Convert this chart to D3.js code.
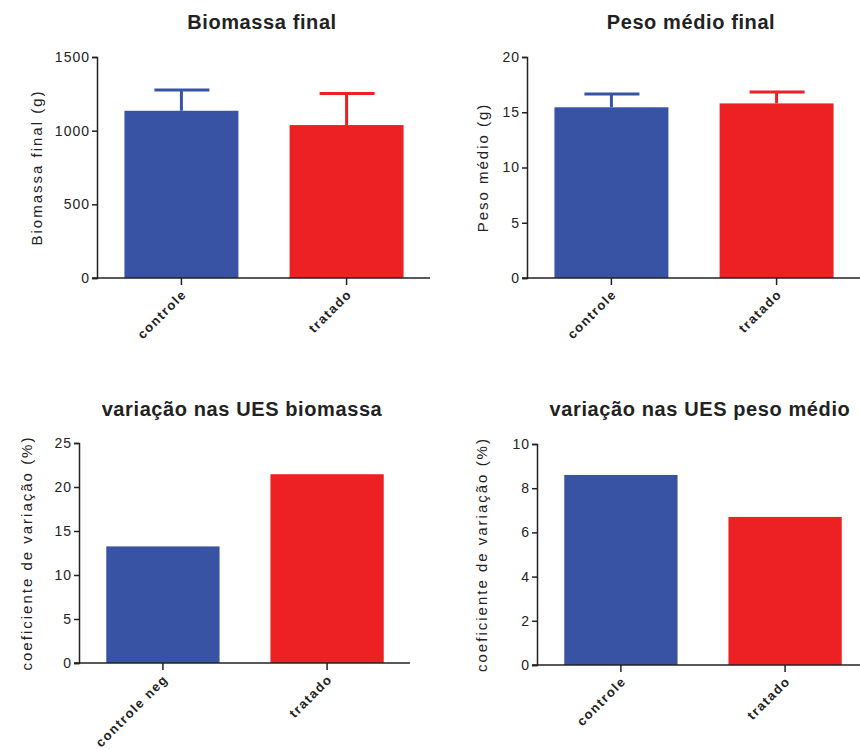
<!DOCTYPE html>
<html lang="en">
<head>
    <meta charset="UTF-8">
    <title>Biomassa e peso médio</title>
    <script src="https://d3js.org/d3.v7.min.js"></script>
    <style>
        body { margin: 0; background: #fff; font-family: "Liberation Sans", Arial, sans-serif; }
        svg text { fill: #222; }
    </style>
</head>
<body>
<div id="chart"></div>
<script>
    // data
    const biomassaCats = ["controle", "tratado"];
    const biomassaMean = [1135, 1038];
    const biomassaErr = [141, 215];

    const pesoCats = ["controle", "tratado"];
    const pesoMean = [15.45, 15.8];
    const pesoErr = [1.2, 1.03];

    const cvBioCats = ["controle neg", "tratado"];
    const cvBio = [13.25, 21.45];

    const cvPesoCats = ["controle", "tratado"];
    const cvPeso = [8.6, 6.7];

    const colors = ["#3953a4", "#ed2024"];

    const svg = d3.select("#chart").append("svg")
        .attr("width", 860)
        .attr("height", 749);

    function panel(opts) {
        const g = svg.append("g");
        const x = d3.scaleBand().domain(opts.cats)
            .range([opts.x0, opts.x1]).paddingInner(opts.pad).paddingOuter(opts.outer);
        const y = d3.scaleLinear().domain([0, opts.ymax]).range([opts.y0, opts.y1]);

        // bars
        g.selectAll("rect.bar").data(opts.values).enter().append("rect")
            .attr("x", (d, i) => x(opts.cats[i]))
            .attr("width", x.bandwidth())
            .attr("y", d => y(d))
            .attr("height", d => y(0) - y(d))
            .attr("fill", (d, i) => colors[i]);

        // error bars (upper only)
        if (opts.err) {
            opts.err.forEach((e, i) => {
                const cx = x(opts.cats[i]) + x.bandwidth() / 2;
                const top = y(opts.values[i] + e);
                g.append("line").attr("x1", cx).attr("x2", cx)
                    .attr("y1", y(opts.values[i])).attr("y2", top)
                    .attr("stroke", colors[i]).attr("stroke-width", 3);
                g.append("line").attr("x1", cx - 27).attr("x2", cx + 28)
                    .attr("y1", top).attr("y2", top)
                    .attr("stroke", colors[i]).attr("stroke-width", 3);
            });
        }

        // y axis
        const ya = g.append("g").attr("transform", `translate(${opts.ax},0)`)
            .call(d3.axisLeft(y).tickValues(opts.ticks).tickSize(5).tickPadding(2).tickFormat(d3.format("d")));
        ya.select(".domain").attr("stroke", "#222").attr("stroke-width", 1.5);
        ya.selectAll(".tick line").attr("stroke", "#222").attr("stroke-width", 1.5);
        ya.selectAll("text").attr("font-size", 14).attr("fill", "#222").style("letter-spacing", "1px");

        // x axis
        const xa = g.append("g").attr("transform", `translate(0,${opts.y0})`)
            .call(d3.axisBottom(x).tickSize(7).tickSizeOuter(0));
        xa.select(".domain").attr("d", `M${opts.ax - 5},0H${opts.xend}`)
            .attr("stroke", "#222").attr("stroke-width", 1.5);
        xa.selectAll(".tick line").attr("stroke", "#222").attr("stroke-width", 1.5);
        xa.selectAll("text")
            .attr("font-size", 13).attr("font-weight", "bold").attr("fill", "#222")
            .style("letter-spacing", "1.5px")
            .attr("text-anchor", "end")
            .attr("dy", 0).attr("y", 0)
            .attr("transform", "translate(6,17) rotate(-45)");

        // title
        g.append("text").attr("x", opts.tx).attr("y", opts.ty)
            .attr("text-anchor", "middle").attr("font-size", 20).attr("font-weight", "bold")
            .style("letter-spacing", "0.6px")
            .text(opts.title);

        // y label
        g.append("text")
            .attr("transform", `translate(${opts.lx},${(opts.y0 + opts.y1) / 2}) rotate(-90)`)
            .attr("text-anchor", "middle").attr("font-size", 15)
            .style("letter-spacing", "2px")
            .text(opts.ylabel);
    }

    panel({
        cats: biomassaCats, values: biomassaMean, err: biomassaErr,
        x0: 98, x1: 430, pad: 0.31, outer: 0.16, xend: 430,
        y0: 278, y1: 57, ymax: 1500, ticks: [0, 500, 1000, 1500], ax: 97,
        title: "Biomassa final", tx: 262, ty: 29,
        ylabel: "Biomassa final (g)", lx: 42
    });

    panel({
        cats: pesoCats, values: pesoMean, err: pesoErr,
        x0: 528, x1: 860, pad: 0.31, outer: 0.16, xend: 860,
        y0: 278, y1: 57, ymax: 20, ticks: [0, 5, 10, 15, 20], ax: 527,
        title: "Peso médio final", tx: 691, ty: 29,
        ylabel: "Peso médio (g)", lx: 488
    });

    panel({
        cats: cvBioCats, values: cvBio, err: null,
        x0: 80, x1: 410, pad: 0.31, outer: 0.16, xend: 410,
        y0: 663, y1: 443, ymax: 25, ticks: [0, 5, 10, 15, 20, 25], ax: 79,
        title: "variação nas UES biomassa", tx: 242, ty: 416,
        ylabel: "coeficiente de variação (%)", lx: 32
    });

    panel({
        cats: cvPesoCats, values: cvPeso, err: null,
        x0: 538, x1: 868, pad: 0.31, outer: 0.16, xend: 860,
        y0: 665, y1: 444, ymax: 10, ticks: [0, 2, 4, 6, 8, 10], ax: 537,
        title: "variação nas UES peso médio", tx: 700, ty: 416,
        ylabel: "coeficiente de variação (%)", lx: 487
    });
</script>
</body>
</html>
